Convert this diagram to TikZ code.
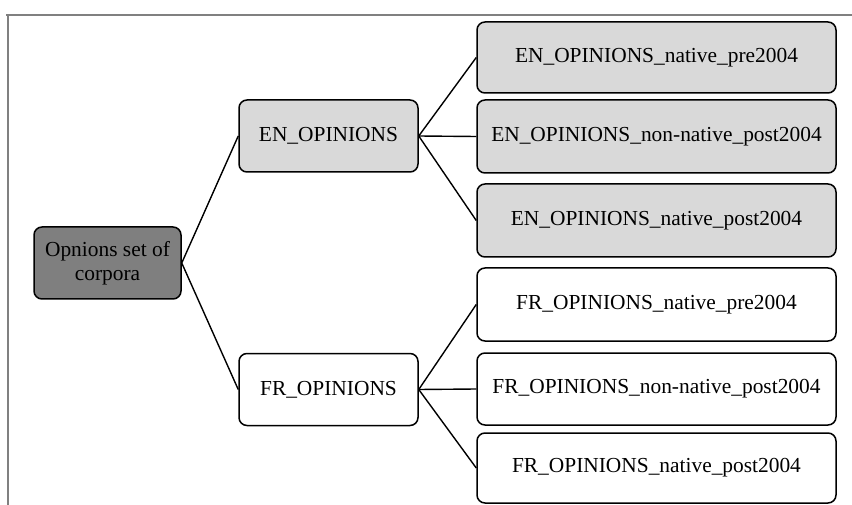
\documentclass[tikz,border=0pt]{standalone}
\usepackage{fontspec}
\setmainfont{Liberation Serif}
\definecolor{rootfill}{HTML}{7F7F7F}
\definecolor{enfill}{HTML}{D9D9D9}
\definecolor{framegray}{HTML}{808080}
\begin{document}
\begin{tikzpicture}[x=1pt,y=-1pt,
  box/.style={draw=black, line width=1.5pt, rounded corners=8pt, inner sep=0pt,
    align=center, font=\fontsize{21.4}{23.5}\selectfont},
  rootbox/.style={box, fill=rootfill, minimum width=147pt, minimum height=72pt},
  midbox/.style={box, minimum width=179pt, minimum height=72pt},
  leafbox/.style={box, minimum width=359pt, minimum height=72pt},
  enbox/.style={fill=enfill},
  frbox/.style={fill=white},
  link/.style={draw=black, line width=1.4pt},
  frame/.style={draw=framegray, line width=1.5pt}]
\useasboundingbox (0,0) rectangle (852,505);
% frame
\coordinate (f1) at (6,15);
\coordinate (f2) at (852,15);
\coordinate (f3) at (8,15);
\coordinate (f4) at (8,505);
\draw[frame] (f1) -- (f2);
\draw[frame] (f3) -- (f4);
% nodes
\node[rootbox] (root) at (107.5,263) {Opnions set of\\corpora};
\node[midbox, enbox] (en) at (328.5,136) {EN\_OPINIONS};
\node[midbox, frbox] (fr) at (328.5,389.5) {FR\_OPINIONS};
\node[leafbox, enbox, minimum height=71pt] (en1) at (656.5,57.5) {EN\_OPINIONS\_native\_pre2004};
\node[leafbox, enbox, minimum height=73pt] (en2) at (656.5,136.5) {EN\_OPINIONS\_non-native\_post2004};
\node[leafbox, enbox, minimum height=73pt] (en3) at (656.5,220.5) {EN\_OPINIONS\_native\_post2004};
\node[leafbox, frbox, minimum height=73pt] (fr1) at (656.5,304.5) {FR\_OPINIONS\_native\_pre2004};
\node[leafbox, frbox, minimum height=72pt] (fr2) at (656.5,389) {FR\_OPINIONS\_non-native\_post2004};
\node[leafbox, frbox, minimum height=70pt] (fr3) at (656.5,468) {FR\_OPINIONS\_native\_post2004};
% connectors
\draw[link] (root.east) -- (en.west);
\draw[link] (root.east) -- (fr.west);
\draw[link] (en.east) -- (en1.west);
\draw[link] (en.east) -- (en2.west);
\draw[link] (en.east) -- (en3.west);
\draw[link] (fr.east) -- (fr1.west);
\draw[link] (fr.east) -- (fr2.west);
\draw[link] (fr.east) -- (fr3.west);
\end{tikzpicture}
\end{document}
